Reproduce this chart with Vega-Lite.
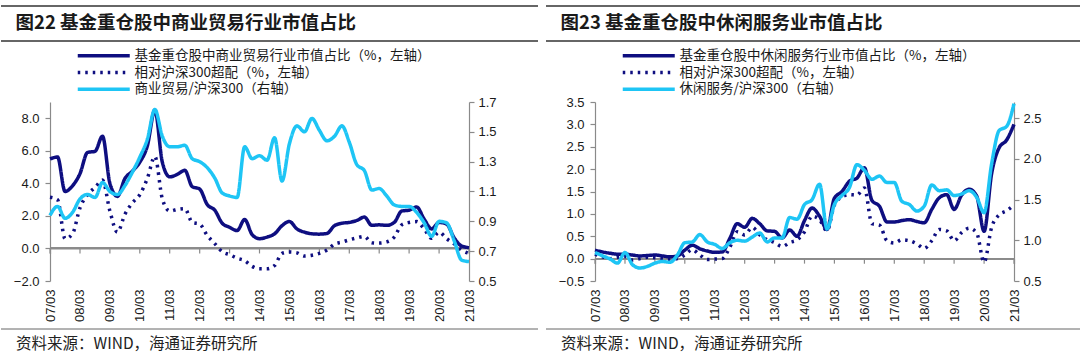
{
  "$schema": "https://vega.github.io/schema/vega-lite/v6.json",
  "background": "white",
  "padding": {"left": 0, "top": 5, "right": 0, "bottom": 0},
  "spacing": 6,
  "resolve": {"scale": {"color": "independent", "strokeDash": "independent"}},
  "config": {
    "view": {"stroke": null},
    "font": "Liberation Sans",
    "axis": {"domainColor": "#8a8a8a", "tickColor": "#8a8a8a", "labelColor": "#1a1a1a", "labelFont": "Liberation Sans", "labelFontSize": 13, "grid": false, "title": null, "tickSize": 5, "domainWidth": 1.2, "tickWidth": 1.2},
    "legend": {"orient": "none", "legendX": 96, "legendY": 43, "padding": 0, "title": null, "symbolType": "M-13,0H13", "symbolSize": 16, "symbolStrokeWidth": 3.5, "labelFont": "Noto Sans CJK SC", "labelFontSize": 13.5, "labelColor": "#1a1a1a", "labelLimit": 600, "rowPadding": 1.8, "labelOffset": 24, "direction": "vertical"}
  },
  "datasets": {
    "trade": [
      {"date": "2007-03", "share": 5.5, "over": 3.15, "rel": 0.94},
      {"date": "2007-06", "share": 5.62, "over": 3.0, "rel": 1.0},
      {"date": "2007-09", "share": 3.5, "over": 0.6, "rel": 0.92},
      {"date": "2007-12", "share": 3.85, "over": 0.9, "rel": 0.96},
      {"date": "2008-03", "share": 4.6, "over": 2.5, "rel": 1.05},
      {"date": "2008-06", "share": 5.9, "over": 3.3, "rel": 1.08},
      {"date": "2008-09", "share": 5.97, "over": 3.75, "rel": 1.06},
      {"date": "2008-12", "share": 6.9, "over": 4.2, "rel": 1.16},
      {"date": "2009-03", "share": 4.0, "over": 2.3, "rel": 1.1},
      {"date": "2009-06", "share": 3.2, "over": 1.0, "rel": 1.08},
      {"date": "2009-09", "share": 4.3, "over": 2.1, "rel": 1.14},
      {"date": "2009-12", "share": 4.75, "over": 2.8, "rel": 1.23},
      {"date": "2010-03", "share": 5.3, "over": 3.3, "rel": 1.33},
      {"date": "2010-06", "share": 6.3, "over": 4.3, "rel": 1.45},
      {"date": "2010-09", "share": 8.5, "over": 5.65, "rel": 1.65},
      {"date": "2010-12", "share": 5.3, "over": 3.05, "rel": 1.47},
      {"date": "2011-03", "share": 4.4, "over": 2.3, "rel": 1.4},
      {"date": "2011-06", "share": 4.55, "over": 2.4, "rel": 1.4},
      {"date": "2011-09", "share": 4.8, "over": 2.45, "rel": 1.41},
      {"date": "2011-12", "share": 3.8, "over": 1.6, "rel": 1.32},
      {"date": "2012-03", "share": 3.65, "over": 1.5, "rel": 1.3},
      {"date": "2012-06", "share": 2.7, "over": 0.8, "rel": 1.26},
      {"date": "2012-09", "share": 2.35, "over": 0.3, "rel": 1.19},
      {"date": "2012-12", "share": 1.55, "over": -0.2, "rel": 1.09},
      {"date": "2013-03", "share": 1.3, "over": -0.38, "rel": 1.07},
      {"date": "2013-06", "share": 1.1, "over": -0.6, "rel": 1.06},
      {"date": "2013-09", "share": 1.78, "over": -0.75, "rel": 1.4},
      {"date": "2013-12", "share": 0.85, "over": -1.1, "rel": 1.32},
      {"date": "2014-03", "share": 0.6, "over": -1.25, "rel": 1.34},
      {"date": "2014-06", "share": 0.7, "over": -1.25, "rel": 1.31},
      {"date": "2014-09", "share": 0.9, "over": -1.05, "rel": 1.46},
      {"date": "2014-12", "share": 1.4, "over": -0.3, "rel": 1.17},
      {"date": "2015-03", "share": 1.66, "over": -0.22, "rel": 1.42},
      {"date": "2015-06", "share": 1.2, "over": -0.27, "rel": 1.54},
      {"date": "2015-09", "share": 1.0, "over": -0.47, "rel": 1.5},
      {"date": "2015-12", "share": 0.9, "over": -0.42, "rel": 1.59},
      {"date": "2016-03", "share": 0.88, "over": -0.3, "rel": 1.51},
      {"date": "2016-06", "share": 0.92, "over": -0.1, "rel": 1.44},
      {"date": "2016-09", "share": 1.4, "over": 0.27, "rel": 1.47},
      {"date": "2016-12", "share": 1.55, "over": 0.39, "rel": 1.54},
      {"date": "2017-03", "share": 1.6, "over": 0.53, "rel": 1.43},
      {"date": "2017-06", "share": 1.72, "over": 0.65, "rel": 1.28},
      {"date": "2017-09", "share": 1.93, "over": 0.74, "rel": 1.24},
      {"date": "2017-12", "share": 1.42, "over": 0.35, "rel": 1.11},
      {"date": "2018-03", "share": 1.45, "over": 0.33, "rel": 1.12},
      {"date": "2018-06", "share": 1.42, "over": 0.4, "rel": 1.07},
      {"date": "2018-09", "share": 1.6, "over": 0.7, "rel": 1.01},
      {"date": "2018-12", "share": 2.3, "over": 1.45, "rel": 1.0},
      {"date": "2019-03", "share": 2.35, "over": 1.6, "rel": 1.0},
      {"date": "2019-06", "share": 2.55, "over": 1.65, "rel": 0.96},
      {"date": "2019-09", "share": 1.8, "over": 1.2, "rel": 0.89},
      {"date": "2019-12", "share": 1.2, "over": 0.62, "rel": 0.8},
      {"date": "2020-03", "share": 1.6, "over": 1.0, "rel": 0.9},
      {"date": "2020-06", "share": 1.5, "over": 0.6, "rel": 0.89},
      {"date": "2020-09", "share": 0.65, "over": 0.28, "rel": 0.77},
      {"date": "2020-12", "share": 0.15, "over": -0.1, "rel": 0.64},
      {"date": "2021-03", "share": 0.05, "over": -0.3, "rel": 0.63}
    ],
    "leisure": [
      {"date": "2007-03", "share": 0.19, "over": 0.1, "rel": 0.85},
      {"date": "2007-06", "share": 0.15, "over": 0.04, "rel": 0.81},
      {"date": "2007-09", "share": 0.12, "over": 0.0, "rel": 0.77},
      {"date": "2007-12", "share": 0.1, "over": 0.03, "rel": 0.72},
      {"date": "2008-03", "share": 0.1, "over": 0.05, "rel": 0.85},
      {"date": "2008-06", "share": 0.08, "over": -0.03, "rel": 0.7},
      {"date": "2008-09", "share": 0.06, "over": 0.0, "rel": 0.66},
      {"date": "2008-12", "share": 0.07, "over": 0.03, "rel": 0.68},
      {"date": "2009-03", "share": 0.08, "over": 0.02, "rel": 0.72},
      {"date": "2009-06", "share": 0.06, "over": 0.0, "rel": 0.74},
      {"date": "2009-09", "share": 0.04, "over": -0.02, "rel": 0.73},
      {"date": "2009-12", "share": 0.06, "over": 0.0, "rel": 0.82},
      {"date": "2010-03", "share": 0.19, "over": 0.08, "rel": 0.97},
      {"date": "2010-06", "share": 0.3, "over": 0.2, "rel": 0.98},
      {"date": "2010-09", "share": 0.22, "over": 0.08, "rel": 1.07},
      {"date": "2010-12", "share": 0.17, "over": -0.02, "rel": 0.98},
      {"date": "2011-03", "share": 0.14, "over": -0.01, "rel": 0.95},
      {"date": "2011-06", "share": 0.15, "over": 0.0, "rel": 0.9},
      {"date": "2011-09", "share": 0.45, "over": 0.25, "rel": 0.97},
      {"date": "2011-12", "share": 0.78, "over": 0.6, "rel": 1.0},
      {"date": "2012-03", "share": 0.7, "over": 0.53, "rel": 0.99},
      {"date": "2012-06", "share": 0.9, "over": 0.7, "rel": 1.04},
      {"date": "2012-09", "share": 0.78, "over": 0.53, "rel": 1.09},
      {"date": "2012-12", "share": 0.62, "over": 0.42, "rel": 0.98},
      {"date": "2013-03", "share": 0.61, "over": 0.36, "rel": 1.03},
      {"date": "2013-06", "share": 0.46, "over": 0.27, "rel": 1.03},
      {"date": "2013-09", "share": 0.64, "over": 0.36, "rel": 1.28},
      {"date": "2013-12", "share": 0.5, "over": 0.42, "rel": 1.26},
      {"date": "2014-03", "share": 0.85, "over": 0.6, "rel": 1.44},
      {"date": "2014-06", "share": 1.13, "over": 0.95, "rel": 1.5},
      {"date": "2014-09", "share": 0.95, "over": 0.87, "rel": 1.69},
      {"date": "2014-12", "share": 0.65, "over": 0.62, "rel": 1.14},
      {"date": "2015-03", "share": 1.35, "over": 1.2, "rel": 1.44},
      {"date": "2015-06", "share": 1.5, "over": 1.38, "rel": 1.55},
      {"date": "2015-09", "share": 1.73, "over": 1.43, "rel": 1.65},
      {"date": "2015-12", "share": 1.8, "over": 1.42, "rel": 1.93},
      {"date": "2016-03", "share": 2.03, "over": 1.58, "rel": 1.86},
      {"date": "2016-06", "share": 1.3, "over": 0.78, "rel": 1.75},
      {"date": "2016-09", "share": 1.17, "over": 0.75, "rel": 1.79},
      {"date": "2016-12", "share": 0.82, "over": 0.4, "rel": 1.71},
      {"date": "2017-03", "share": 0.82, "over": 0.35, "rel": 1.71},
      {"date": "2017-06", "share": 0.85, "over": 0.42, "rel": 1.48},
      {"date": "2017-09", "share": 0.87, "over": 0.4, "rel": 1.44},
      {"date": "2017-12", "share": 0.83, "over": 0.33, "rel": 1.36},
      {"date": "2018-03", "share": 0.8, "over": 0.23, "rel": 1.42},
      {"date": "2018-06", "share": 1.1, "over": 0.4, "rel": 1.68},
      {"date": "2018-09", "share": 1.36, "over": 0.65, "rel": 1.61},
      {"date": "2018-12", "share": 1.43, "over": 0.62, "rel": 1.62},
      {"date": "2019-03", "share": 1.1, "over": 0.4, "rel": 1.55},
      {"date": "2019-06", "share": 1.42, "over": 0.58, "rel": 1.57},
      {"date": "2019-09", "share": 1.55, "over": 0.68, "rel": 1.61},
      {"date": "2019-12", "share": 1.4, "over": 0.58, "rel": 1.53},
      {"date": "2020-03", "share": 0.61, "over": -0.08, "rel": 1.34},
      {"date": "2020-06", "share": 1.9, "over": 0.7, "rel": 1.94},
      {"date": "2020-09", "share": 2.48, "over": 0.98, "rel": 2.35},
      {"date": "2020-12", "share": 2.65, "over": 1.07, "rel": 2.4},
      {"date": "2021-03", "share": 3.0, "over": 1.2, "rel": 2.68}
    ]
  },
  "hconcat": [
    {
      "spacing": 6,
      "vconcat": [
        {
          "width": 537, "height": 83.5,
          "data": {"values": [{"t": "图22 基金重仓股中商业贸易行业市值占比"}]},
          "layer": [
            {"mark": {"type": "rule", "color": "#333333", "strokeWidth": 1.5},
             "encoding": {"y": {"datum": 1, "type": "quantitative", "scale": {"domain": [0, 1]}, "axis": null}}},
            {"mark": {"type": "rule", "color": "#333333", "strokeWidth": 1.5},
             "encoding": {"y": {"datum": 0.581, "type": "quantitative"}}},
            {"mark": {"type": "text", "align": "left", "baseline": "alphabetic", "font": "Noto Sans CJK SC", "fontWeight": "bold", "fontSize": 18.5, "color": "#1a1a1a"},
             "encoding": {"text": {"field": "t"}, "x": {"datum": 1.027, "type": "quantitative", "scale": {"domain": [1, 2], "zero": false}, "axis": null}, "y": {"datum": 0.7246, "type": "quantitative"}}}
          ]
        },
        {
          "width": 537, "height": 179,
          "data": {"name": "trade"},
          "layer": [
            {
              "transform": [{"filter": "utcmonth(toDate(datum.date)) == 2"}],
              "mark": {"type": "rule", "color": "#8a8a8a", "strokeWidth": 1.2},
              "encoding": {
                "x": {"field": "date", "type": "temporal", "axis": null},
                "y": {"datum": 0, "type": "quantitative", "scale": {"domain": [-2, 9], "nice": false, "zero": false}, "axis": null},
                "y2": {"datum": -0.307}
              }
            },
            {
              "mark": {"type": "rule", "color": "#8a8a8a", "strokeWidth": 1.2},
              "encoding": {
                "x": {"datum": {"year": 2007, "month": 3, "utc": true}, "type": "temporal", "axis": null},
                "x2": {"datum": {"year": 2021, "month": 3, "utc": true}},
                "y": {"datum": 0, "type": "quantitative", "scale": {"domain": [-2, 9], "nice": false, "zero": false}, "axis": null}
              }
            },
            {
              "transform": [{"fold": ["share", "over"], "as": ["series", "value"]}],
              "mark": {"type": "line", "strokeWidth": 3.5, "interpolate": "monotone"},
              "encoding": {
                "x": {"field": "date", "type": "temporal",
                      "scale": {"type": "utc", "range": [49, 468], "domain": [{"year": 2007, "month": 3, "utc": true}, {"year": 2021, "month": 3, "utc": true}]},
                      "axis": {"values": [{"year": 2007, "month": 3, "utc": true}, {"year": 2021, "month": 3, "utc": true}],
                               "labels": false, "offset": -32.5, "domain": true, "ticks": true}},
                "y": {"field": "value", "type": "quantitative", "scale": {"domain": [-2, 9], "nice": false, "zero": false},
                      "axis": {"orient": "left", "offset": -49, "values": [-2, 0, 2, 4, 6, 8], "format": ".1f", "labelPadding": 6}},
                "color": {"field": "series", "type": "nominal", "scale": {"domain": ["share", "over", "rel"], "range": ["#0E0E80", "#0E0E80", "#1EC5F5"]},
                          "legend": {"labelExpr": "datum.value == 'share' ? '基金重仓股中商业贸易行业市值占比（%，左轴）' : datum.value == 'over' ? '相对沪深300超配（%，左轴）' : '商业贸易/沪深300（右轴）'"}},
                "strokeDash": {"field": "series", "type": "nominal", "scale": {"domain": ["share", "over", "rel"], "range": [[1, 0], [2.5, 5], [1, 0]]},
                          "legend": {"labelExpr": "datum.value == 'share' ? '基金重仓股中商业贸易行业市值占比（%，左轴）' : datum.value == 'over' ? '相对沪深300超配（%，左轴）' : '商业贸易/沪深300（右轴）'"}}
              }
            },
            {
              "transform": [{"fold": ["rel"], "as": ["series", "value"]}],
              "mark": {"type": "line", "strokeWidth": 3.5, "interpolate": "monotone"},
              "encoding": {
                "x": {"field": "date", "type": "temporal",
                      "axis": {"values": [{"year": 2007, "month": 3, "utc": true}, {"year": 2008, "month": 3, "utc": true}, {"year": 2009, "month": 3, "utc": true}, {"year": 2010, "month": 3, "utc": true}, {"year": 2011, "month": 3, "utc": true}, {"year": 2012, "month": 3, "utc": true}, {"year": 2013, "month": 3, "utc": true}, {"year": 2014, "month": 3, "utc": true}, {"year": 2015, "month": 3, "utc": true}, {"year": 2016, "month": 3, "utc": true}, {"year": 2017, "month": 3, "utc": true}, {"year": 2018, "month": 3, "utc": true}, {"year": 2019, "month": 3, "utc": true}, {"year": 2020, "month": 3, "utc": true}, {"year": 2021, "month": 3, "utc": true}],
                               "labelExpr": "utcFormat(datum.value, '%y/%m')", "labelAngle": -90, "labelAlign": "right", "labelBaseline": "middle", "domain": false, "ticks": false, "labelPadding": 0, "offset": -187}},
                "y": {"field": "value", "type": "quantitative", "scale": {"domain": [0.5, 1.7], "nice": false, "zero": false},
                      "axis": {"orient": "right", "offset": -69, "values": [0.5, 0.7, 0.9, 1.1, 1.3, 1.5, 1.7], "format": ".1f", "labelPadding": 4}},
                "color": {"field": "series", "type": "nominal",
                          "legend": {"labelExpr": "datum.value == 'share' ? '基金重仓股中商业贸易行业市值占比（%，左轴）' : datum.value == 'over' ? '相对沪深300超配（%，左轴）' : '商业贸易/沪深300（右轴）'"}},
                "strokeDash": {"field": "series", "type": "nominal",
                          "legend": {"labelExpr": "datum.value == 'share' ? '基金重仓股中商业贸易行业市值占比（%，左轴）' : datum.value == 'over' ? '相对沪深300超配（%，左轴）' : '商业贸易/沪深300（右轴）'"}}
              }
            }
          ],
          "resolve": {"scale": {"y": "independent"}, "axis": {"x": "independent"}}
        },
        {
          "width": 537, "height": 27,
          "data": {"values": [{"t": "资料来源：WIND，海通证券研究所"}]},
          "layer": [
            {"mark": {"type": "rule", "color": "#666666", "strokeWidth": 1},
             "encoding": {"y": {"datum": 1, "type": "quantitative", "scale": {"domain": [0, 1]}, "axis": null}}},
            {"mark": {"type": "text", "align": "left", "baseline": "alphabetic", "font": "Noto Sans CJK SC", "fontSize": 15.5, "color": "#222222"},
             "encoding": {"text": {"field": "t"}, "x": {"datum": 1.028, "type": "quantitative", "scale": {"domain": [1, 2], "zero": false}, "axis": null}, "y": {"datum": 0.26, "type": "quantitative"}}}
          ]
        }
      ]
    },
    {
      "spacing": 6,
      "vconcat": [
        {
          "width": 537, "height": 83.5,
          "data": {"values": [{"t": "图23 基金重仓股中休闲服务业市值占比"}]},
          "layer": [
            {"mark": {"type": "rule", "color": "#333333", "strokeWidth": 1.5},
             "encoding": {"y": {"datum": 1, "type": "quantitative", "scale": {"domain": [0, 1]}, "axis": null}}},
            {"mark": {"type": "rule", "color": "#333333", "strokeWidth": 1.5},
             "encoding": {"y": {"datum": 0.581, "type": "quantitative"}}},
            {"mark": {"type": "text", "align": "left", "baseline": "alphabetic", "font": "Noto Sans CJK SC", "fontWeight": "bold", "fontSize": 18.5, "color": "#1a1a1a"},
             "encoding": {"text": {"field": "t"}, "x": {"datum": 1.027, "type": "quantitative", "scale": {"domain": [1, 2], "zero": false}, "axis": null}, "y": {"datum": 0.7246, "type": "quantitative"}}}
          ]
        },
        {
          "width": 537, "height": 179,
          "data": {"name": "leisure"},
          "layer": [
            {
              "transform": [{"filter": "utcmonth(toDate(datum.date)) == 2"}],
              "mark": {"type": "rule", "color": "#8a8a8a", "strokeWidth": 1.2},
              "encoding": {
                "x": {"field": "date", "type": "temporal", "axis": null},
                "y": {"datum": 0, "type": "quantitative", "scale": {"domain": [-0.5, 3.5], "nice": false, "zero": false}, "axis": null},
                "y2": {"datum": -0.112}
              }
            },
            {
              "mark": {"type": "rule", "color": "#8a8a8a", "strokeWidth": 1.2},
              "encoding": {
                "x": {"datum": {"year": 2007, "month": 3, "utc": true}, "type": "temporal", "axis": null},
                "x2": {"datum": {"year": 2021, "month": 3, "utc": true}},
                "y": {"datum": 0, "type": "quantitative", "scale": {"domain": [-0.5, 3.5], "nice": false, "zero": false}, "axis": null}
              }
            },
            {
              "transform": [{"fold": ["share", "over"], "as": ["series", "value"]}],
              "mark": {"type": "line", "strokeWidth": 3.5, "interpolate": "monotone"},
              "encoding": {
                "x": {"field": "date", "type": "temporal",
                      "scale": {"type": "utc", "range": [49, 468], "domain": [{"year": 2007, "month": 3, "utc": true}, {"year": 2021, "month": 3, "utc": true}]},
                      "axis": {"values": [{"year": 2007, "month": 3, "utc": true}, {"year": 2021, "month": 3, "utc": true}],
                               "labels": false, "offset": -22.4, "domain": true, "ticks": true}},
                "y": {"field": "value", "type": "quantitative", "scale": {"domain": [-0.5, 3.5], "nice": false, "zero": false},
                      "axis": {"orient": "left", "offset": -49, "values": [-0.5, 0, 0.5, 1, 1.5, 2, 2.5, 3, 3.5], "format": ".1f", "labelPadding": 6}},
                "color": {"field": "series", "type": "nominal", "scale": {"domain": ["share", "over", "rel"], "range": ["#0E0E80", "#0E0E80", "#1EC5F5"]},
                          "legend": {"labelExpr": "datum.value == 'share' ? '基金重仓股中休闲服务行业市值占比（%，左轴）' : datum.value == 'over' ? '相对沪深300超配（%，左轴）' : '休闲服务/沪深300（右轴）'"}},
                "strokeDash": {"field": "series", "type": "nominal", "scale": {"domain": ["share", "over", "rel"], "range": [[1, 0], [2.5, 5], [1, 0]]},
                          "legend": {"labelExpr": "datum.value == 'share' ? '基金重仓股中休闲服务行业市值占比（%，左轴）' : datum.value == 'over' ? '相对沪深300超配（%，左轴）' : '休闲服务/沪深300（右轴）'"}}
              }
            },
            {
              "transform": [{"fold": ["rel"], "as": ["series", "value"]}],
              "mark": {"type": "line", "strokeWidth": 3.5, "interpolate": "monotone"},
              "encoding": {
                "x": {"field": "date", "type": "temporal",
                      "axis": {"values": [{"year": 2007, "month": 3, "utc": true}, {"year": 2008, "month": 3, "utc": true}, {"year": 2009, "month": 3, "utc": true}, {"year": 2010, "month": 3, "utc": true}, {"year": 2011, "month": 3, "utc": true}, {"year": 2012, "month": 3, "utc": true}, {"year": 2013, "month": 3, "utc": true}, {"year": 2014, "month": 3, "utc": true}, {"year": 2015, "month": 3, "utc": true}, {"year": 2016, "month": 3, "utc": true}, {"year": 2017, "month": 3, "utc": true}, {"year": 2018, "month": 3, "utc": true}, {"year": 2019, "month": 3, "utc": true}, {"year": 2020, "month": 3, "utc": true}, {"year": 2021, "month": 3, "utc": true}],
                               "labelExpr": "utcFormat(datum.value, '%y/%m')", "labelAngle": -90, "labelAlign": "right", "labelBaseline": "middle", "domain": false, "ticks": false, "labelPadding": 0, "offset": -187}},
                "y": {"field": "value", "type": "quantitative", "scale": {"domain": [0.5, 2.7], "nice": false, "zero": false},
                      "axis": {"orient": "right", "offset": -69, "values": [0.5, 1.0, 1.5, 2.0, 2.5], "format": ".1f", "labelPadding": 4}},
                "color": {"field": "series", "type": "nominal",
                          "legend": {"labelExpr": "datum.value == 'share' ? '基金重仓股中休闲服务行业市值占比（%，左轴）' : datum.value == 'over' ? '相对沪深300超配（%，左轴）' : '休闲服务/沪深300（右轴）'"}},
                "strokeDash": {"field": "series", "type": "nominal",
                          "legend": {"labelExpr": "datum.value == 'share' ? '基金重仓股中休闲服务行业市值占比（%，左轴）' : datum.value == 'over' ? '相对沪深300超配（%，左轴）' : '休闲服务/沪深300（右轴）'"}}
              }
            }
          ],
          "resolve": {"scale": {"y": "independent"}, "axis": {"x": "independent"}}
        },
        {
          "width": 537, "height": 27,
          "data": {"values": [{"t": "资料来源：WIND，海通证券研究所"}]},
          "layer": [
            {"mark": {"type": "rule", "color": "#666666", "strokeWidth": 1},
             "encoding": {"y": {"datum": 1, "type": "quantitative", "scale": {"domain": [0, 1]}, "axis": null}}},
            {"mark": {"type": "text", "align": "left", "baseline": "alphabetic", "font": "Noto Sans CJK SC", "fontSize": 15.5, "color": "#222222"},
             "encoding": {"text": {"field": "t"}, "x": {"datum": 1.028, "type": "quantitative", "scale": {"domain": [1, 2], "zero": false}, "axis": null}, "y": {"datum": 0.26, "type": "quantitative"}}}
          ]
        }
      ]
    }
  ]
}
